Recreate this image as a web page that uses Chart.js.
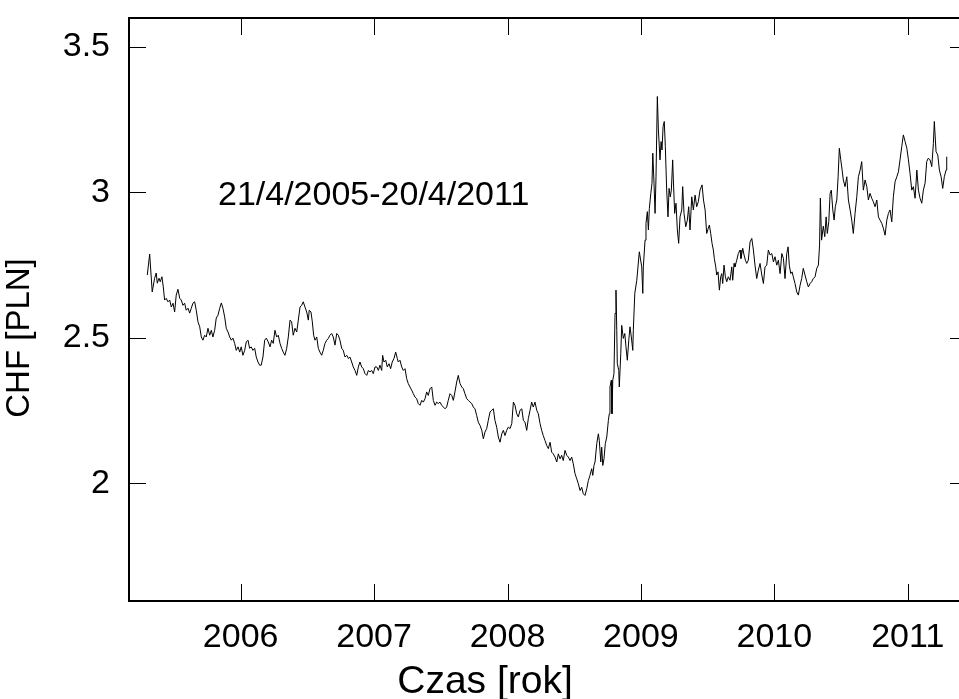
<!DOCTYPE html>
<html lang="pl">
<head>
<meta charset="utf-8">
<title>CHF [PLN]</title>
<script src="https://cdn.jsdelivr.net/npm/chart.js@4.4.1/dist/chart.umd.min.js"></script>
<style>
  html, body { margin: 0; padding: 0; background: #fff; overflow: hidden; }
  #wykres { display: block; }
</style>
</head>
<body>
<canvas id="wykres" width="975" height="699"></canvas>
<script>
// Kurs CHF w złotych (czas jako ułamek roku)
const lata = [
  2005.300, 2005.318, 2005.337, 2005.355, 2005.367, 2005.375, 2005.388, 2005.397, 2005.410, 2005.420,
  2005.430, 2005.442, 2005.455, 2005.468, 2005.480, 2005.493, 2005.505, 2005.517, 2005.530, 2005.543,
  2005.555, 2005.567, 2005.580, 2005.592, 2005.605, 2005.618, 2005.630, 2005.642, 2005.655, 2005.667,
  2005.680, 2005.693, 2005.705, 2005.717, 2005.730, 2005.742, 2005.755, 2005.768, 2005.780, 2005.792,
  2005.805, 2005.817, 2005.830, 2005.843, 2005.855, 2005.867, 2005.880, 2005.892, 2005.905, 2005.918,
  2005.930, 2005.942, 2005.955, 2005.967, 2005.980, 2005.993, 2006.004, 2006.017, 2006.030, 2006.042,
  2006.055, 2006.067, 2006.079, 2006.092, 2006.105, 2006.117, 2006.130, 2006.142, 2006.154, 2006.167,
  2006.180, 2006.192, 2006.207, 2006.220, 2006.232, 2006.244, 2006.257, 2006.270, 2006.282, 2006.295,
  2006.307, 2006.319, 2006.332, 2006.345, 2006.357, 2006.370, 2006.382, 2006.394, 2006.407, 2006.420,
  2006.432, 2006.445, 2006.457, 2006.469, 2006.482, 2006.495, 2006.507, 2006.514, 2006.527, 2006.537,
  2006.547, 2006.557, 2006.570, 2006.582, 2006.594, 2006.607, 2006.619, 2006.632, 2006.645, 2006.657,
  2006.669, 2006.682, 2006.694, 2006.707, 2006.720, 2006.732, 2006.744, 2006.757, 2006.769, 2006.782,
  2006.795, 2006.807, 2006.819, 2006.832, 2006.844, 2006.857, 2006.870, 2006.882, 2006.894, 2006.907,
  2006.919, 2006.932, 2006.945, 2006.957, 2006.969, 2006.982, 2006.994, 2007.007, 2007.020, 2007.032,
  2007.044, 2007.057, 2007.064, 2007.074, 2007.087, 2007.099, 2007.112, 2007.124, 2007.136, 2007.149,
  2007.162, 2007.174, 2007.181, 2007.194, 2007.207, 2007.219, 2007.232, 2007.244, 2007.256, 2007.269,
  2007.282, 2007.294, 2007.307, 2007.319, 2007.331, 2007.344, 2007.357, 2007.369, 2007.382, 2007.394,
  2007.406, 2007.419, 2007.432, 2007.444, 2007.457, 2007.469, 2007.481, 2007.494, 2007.507, 2007.519,
  2007.532, 2007.544, 2007.556, 2007.569, 2007.582, 2007.594, 2007.606, 2007.619, 2007.631, 2007.644,
  2007.657, 2007.669, 2007.681, 2007.694, 2007.706, 2007.719, 2007.732, 2007.744, 2007.756, 2007.769,
  2007.781, 2007.794, 2007.807, 2007.819, 2007.831, 2007.844, 2007.856, 2007.869, 2007.882, 2007.894,
  2007.906, 2007.919, 2007.931, 2007.944, 2007.957, 2007.969, 2007.981, 2007.994, 2008.006, 2008.019,
  2008.032, 2008.044, 2008.056, 2008.069, 2008.081, 2008.094, 2008.107, 2008.119, 2008.131, 2008.144,
  2008.156, 2008.169, 2008.181, 2008.193, 2008.206, 2008.219, 2008.231, 2008.244, 2008.256, 2008.268,
  2008.281, 2008.294, 2008.306, 2008.319, 2008.331, 2008.343, 2008.356, 2008.369, 2008.381, 2008.394,
  2008.406, 2008.418, 2008.431, 2008.444, 2008.456, 2008.469, 2008.481, 2008.493, 2008.506, 2008.519,
  2008.531, 2008.544, 2008.556, 2008.568, 2008.581, 2008.594, 2008.606, 2008.618, 2008.631, 2008.639,
  2008.648, 2008.656, 2008.669, 2008.681, 2008.688, 2008.699, 2008.706, 2008.714, 2008.723, 2008.733,
  2008.744, 2008.756, 2008.763, 2008.768, 2008.778, 2008.783, 2008.789, 2008.798, 2008.806, 2008.813,
  2008.819, 2008.823, 2008.834, 2008.838, 2008.849, 2008.856, 2008.868, 2008.879, 2008.888, 2008.898,
  2008.909, 2008.918, 2008.928, 2008.939, 2008.943, 2008.954, 2008.969, 2008.988, 2009.006, 2009.014,
  2009.018, 2009.031, 2009.038, 2009.048, 2009.056, 2009.063, 2009.074, 2009.083, 2009.089, 2009.098,
  2009.106, 2009.113, 2009.123, 2009.131, 2009.143, 2009.151, 2009.158, 2009.166, 2009.175, 2009.183,
  2009.193, 2009.203, 2009.211, 2009.220, 2009.228, 2009.238, 2009.243, 2009.253, 2009.263, 2009.273,
  2009.283, 2009.293, 2009.306, 2009.313, 2009.323, 2009.336, 2009.348, 2009.358, 2009.368, 2009.381,
  2009.393, 2009.406, 2009.418, 2009.430, 2009.443, 2009.458, 2009.469, 2009.481, 2009.493, 2009.505,
  2009.513, 2009.523, 2009.533, 2009.543, 2009.550, 2009.561, 2009.568, 2009.578, 2009.588, 2009.598,
  2009.606, 2009.613, 2009.623, 2009.633, 2009.643, 2009.655, 2009.668, 2009.681, 2009.688, 2009.698,
  2009.705, 2009.718, 2009.730, 2009.743, 2009.750, 2009.763, 2009.773, 2009.783, 2009.793, 2009.805,
  2009.818, 2009.831, 2009.843, 2009.855, 2009.868, 2009.880, 2009.893, 2009.906, 2009.918, 2009.930,
  2009.943, 2009.955, 2009.968, 2009.981, 2009.993, 2010.005, 2010.018, 2010.030, 2010.043, 2010.056,
  2010.068, 2010.080, 2010.093, 2010.103, 2010.112, 2010.123, 2010.133, 2010.142, 2010.155, 2010.168,
  2010.180, 2010.193, 2010.205, 2010.217, 2010.230, 2010.243, 2010.255, 2010.268, 2010.280, 2010.292,
  2010.305, 2010.318, 2010.330, 2010.339, 2010.345, 2010.354, 2010.367, 2010.378, 2010.388, 2010.397,
  2010.408, 2010.418, 2010.427, 2010.438, 2010.448, 2010.457, 2010.468, 2010.478, 2010.487, 2010.498,
  2010.508, 2010.517, 2010.530, 2010.543, 2010.555, 2010.568, 2010.580, 2010.592, 2010.605, 2010.618,
  2010.630, 2010.643, 2010.655, 2010.667, 2010.680, 2010.693, 2010.705, 2010.717, 2010.730, 2010.742,
  2010.755, 2010.768, 2010.780, 2010.792, 2010.805, 2010.817, 2010.830, 2010.843, 2010.855, 2010.867,
  2010.880, 2010.892, 2010.905, 2010.918, 2010.930, 2010.942, 2010.955, 2010.967, 2010.980, 2010.993,
  2011.005, 2011.017, 2011.030, 2011.042, 2011.055, 2011.068, 2011.080, 2011.092, 2011.105, 2011.117,
  2011.130, 2011.142, 2011.154, 2011.167, 2011.180, 2011.192, 2011.199, 2011.212, 2011.225, 2011.237,
  2011.250, 2011.262, 2011.274, 2011.287, 2011.292
];

const kurs = [
  2.716, 2.788, 2.658, 2.705, 2.723, 2.688, 2.705, 2.693, 2.710, 2.675,
  2.630, 2.636, 2.624, 2.630, 2.606, 2.619, 2.589, 2.647, 2.667, 2.636,
  2.630, 2.612, 2.619, 2.595, 2.602, 2.585, 2.602, 2.619, 2.624, 2.595,
  2.555, 2.538, 2.503, 2.492, 2.509, 2.503, 2.533, 2.509, 2.526, 2.503,
  2.526, 2.568, 2.578, 2.602, 2.620, 2.602, 2.572, 2.533, 2.520, 2.503,
  2.492, 2.499, 2.481, 2.457, 2.469, 2.451, 2.469, 2.440, 2.457, 2.486,
  2.492, 2.464, 2.469, 2.457, 2.464, 2.434, 2.417, 2.406, 2.406, 2.434,
  2.492, 2.499, 2.486, 2.469, 2.492, 2.481, 2.526, 2.503, 2.509, 2.481,
  2.464, 2.451, 2.440, 2.464, 2.503, 2.561, 2.555, 2.509, 2.533, 2.520,
  2.561, 2.606, 2.612, 2.624, 2.606, 2.589, 2.561, 2.595, 2.589, 2.555,
  2.509, 2.492, 2.503, 2.464, 2.451, 2.440, 2.457, 2.481, 2.492, 2.498,
  2.509, 2.515, 2.503, 2.475, 2.515, 2.509, 2.492, 2.464, 2.457, 2.434,
  2.440, 2.429, 2.434, 2.417, 2.400, 2.388, 2.371, 2.400, 2.417, 2.400,
  2.394, 2.377, 2.371, 2.388, 2.383, 2.388, 2.377, 2.400, 2.400, 2.388,
  2.406, 2.388, 2.440, 2.417, 2.423, 2.400, 2.411, 2.394, 2.417, 2.429,
  2.451, 2.429, 2.417, 2.423, 2.400, 2.388, 2.394, 2.360, 2.343, 2.331,
  2.320, 2.308, 2.296, 2.291, 2.274, 2.268, 2.285, 2.279, 2.291, 2.314,
  2.302, 2.325, 2.331, 2.285, 2.268, 2.279, 2.274, 2.279, 2.268, 2.262,
  2.256, 2.262, 2.285, 2.308, 2.302, 2.285, 2.314, 2.348, 2.371, 2.343,
  2.331, 2.325, 2.308, 2.291, 2.285, 2.279, 2.274, 2.262, 2.256, 2.233,
  2.210, 2.199, 2.182, 2.153, 2.176, 2.188, 2.216, 2.245, 2.251, 2.256,
  2.216, 2.193, 2.159, 2.141, 2.170, 2.182, 2.164, 2.182, 2.193, 2.188,
  2.205, 2.279, 2.268, 2.239, 2.228, 2.251, 2.256, 2.216, 2.210, 2.182,
  2.222, 2.251, 2.279, 2.262, 2.279, 2.251, 2.239, 2.205, 2.182, 2.164,
  2.147, 2.130, 2.119, 2.141, 2.107, 2.101, 2.090, 2.073, 2.101, 2.084,
  2.096, 2.078, 2.113, 2.096, 2.090, 2.078, 2.090, 2.067, 2.033, 2.015,
  1.998, 1.975, 1.986, 1.964, 1.958, 1.981, 2.009, 2.027, 2.050, 2.027,
  2.061, 2.073, 2.136, 2.170, 2.147, 2.073, 2.124, 2.061, 2.084, 2.136,
  2.159, 2.216, 2.239, 2.331, 2.354, 2.239, 2.354, 2.377, 2.584, 2.664,
  2.526, 2.411, 2.388, 2.331, 2.446, 2.543, 2.498, 2.515, 2.469, 2.423,
  2.492, 2.538, 2.503, 2.457, 2.526, 2.653, 2.698, 2.796, 2.744, 2.653,
  2.744, 2.836, 2.894, 2.934, 2.871, 2.945, 2.997, 3.032, 3.135, 3.032,
  2.928, 3.054, 3.330, 3.215, 3.112, 3.175, 3.146, 3.226, 3.244, 3.158,
  3.008, 2.916, 3.014, 2.985, 3.008, 3.112, 3.043, 2.928, 2.963, 2.871,
  2.825, 2.916, 2.940, 3.020, 2.928, 2.882, 2.905, 2.951, 2.871, 2.985,
  2.940, 2.991, 2.951, 2.968, 3.008, 3.026, 2.974, 2.940, 2.859, 2.877,
  2.888, 2.859, 2.825, 2.802, 2.773, 2.744, 2.716, 2.727, 2.664, 2.710,
  2.721, 2.687, 2.750, 2.710, 2.693, 2.710, 2.698, 2.744, 2.698, 2.756,
  2.744, 2.767, 2.790, 2.802, 2.773, 2.808, 2.785, 2.767, 2.756, 2.767,
  2.830, 2.842, 2.802, 2.750, 2.704, 2.733, 2.756, 2.716, 2.687, 2.744,
  2.750, 2.802, 2.785, 2.790, 2.761, 2.779, 2.750, 2.767, 2.721, 2.790,
  2.773, 2.704, 2.790, 2.813, 2.750, 2.721, 2.727, 2.710, 2.687, 2.658,
  2.647, 2.681, 2.704, 2.739, 2.716, 2.693, 2.675, 2.687, 2.693, 2.704,
  2.710, 2.739, 2.750, 2.819, 2.981, 2.836, 2.884, 2.848, 2.916, 2.859,
  2.899, 2.997, 3.008, 2.940, 2.905, 2.951, 2.974, 3.054, 3.152, 3.112,
  3.077, 3.043, 3.020, 3.054, 2.974, 2.940, 2.905, 2.859, 2.928, 2.985,
  3.054, 3.077, 3.106, 3.008, 3.043, 3.020, 2.974, 2.997, 2.980, 2.968,
  2.951, 2.974, 2.916, 2.905, 2.894, 2.877, 2.853, 2.905, 2.928, 2.940,
  2.899, 2.985, 3.037, 3.054, 3.071, 3.112, 3.158, 3.198, 3.175, 3.152,
  3.112, 3.066, 3.008, 3.020, 2.980, 3.077, 3.008, 2.980, 2.963, 3.008,
  3.032, 3.106, 3.118, 3.112, 3.089, 3.169, 3.244, 3.140, 3.129, 3.077,
  3.054, 3.014, 3.054, 3.077, 3.123
];

const rokTicks = [2006, 2007, 2008, 2009, 2010, 2011];
const kursTicks = [2, 2.5, 3, 3.5];
const opisOkresu = '21/4/2005-20/4/2011';
const tytulX = 'Czas [rok]';
const tytulY = 'CHF [PLN]';

const czcionka = '"Liberation Sans", Arial, Helvetica, sans-serif';
Chart.defaults.font.family = czcionka;
Chart.defaults.color = '#000';

// Ramka dookoła, krótkie kreski do środka i napisy
const ramka = {
    id: 'ramka',
    afterDraw(chart) {
        const { ctx, chartArea: a, scales: { x, y } } = chart;
        const dl = 17;
        ctx.save();
        ctx.strokeStyle = '#000';
        ctx.lineWidth = 1;
        ctx.beginPath();
        for (const t of rokTicks) {
            const px = Math.round(x.getPixelForValue(t)) + 0.5;
            ctx.moveTo(px, a.bottom);
            ctx.lineTo(px, a.bottom - dl);
            ctx.moveTo(px, a.top);
            ctx.lineTo(px, a.top + dl);
        }
        for (const t of kursTicks) {
            const py = Math.round(y.getPixelForValue(t)) + 0.5;
            ctx.moveTo(a.left, py);
            ctx.lineTo(a.left + dl, py);
            ctx.moveTo(a.right, py);
            ctx.lineTo(a.right - dl, py);
        }
        ctx.stroke();
        ctx.lineWidth = 2;
        ctx.strokeRect(a.left, a.top, a.right - a.left, a.bottom - a.top);

        ctx.fillStyle = '#000';
        ctx.font = '34px ' + czcionka;
        ctx.textAlign = 'left';
        ctx.textBaseline = 'alphabetic';
        ctx.fillText(opisOkresu, 218, 205);

        ctx.font = '39px ' + czcionka;
        ctx.textAlign = 'center';
        ctx.fillText(tytulX, 485, 693);

        ctx.translate(20, 338);
        ctx.rotate(-Math.PI / 2);
        ctx.font = '33px ' + czcionka;
        ctx.textBaseline = 'middle';
        ctx.fillText(tytulY, 0, 0);
        ctx.restore();
    }
};

const ctx = document.getElementById('wykres').getContext('2d');
const chart = new Chart(ctx, {
    type: 'line',
    data: {
        datasets: [{
            label: tytulY,
            data: lata.map((t, i) => ({ x: t, y: kurs[i] })),
            borderColor: '#000',
            borderWidth: 1,
            pointRadius: 0,
            tension: 0,
            fill: false
        }]
    },
    options: {
        responsive: false,
        animation: false,
        devicePixelRatio: 1,
        layout: { padding: { top: 18, right: 8, bottom: 0, left: 0 } },
        plugins: {
            legend: { display: false },
            tooltip: { enabled: false }
        },
        scales: {
            x: {
                type: 'linear',
                min: 2005.163,
                max: 2011.444,
                grid: { display: false, drawTicks: false },
                border: { display: false },
                afterBuildTicks: s => { s.ticks = rokTicks.map(v => ({ value: v })); },
                afterFit: s => { s.height = 98; s.paddingLeft = 0; s.paddingRight = 0; },
                ticks: {
                    font: { size: 34 },
                    padding: 16,
                    autoSkip: false,
                    maxRotation: 0,
                    callback: v => String(v)
                }
            },
            y: {
                type: 'linear',
                min: 1.595,
                max: 3.6,
                grid: { display: false, drawTicks: false },
                border: { display: false },
                afterBuildTicks: s => { s.ticks = kursTicks.map(v => ({ value: v })); },
                afterFit: s => { s.width = 129; s.paddingTop = 0; s.paddingBottom = 0; },
                ticks: {
                    font: { size: 34 },
                    padding: 19,
                    callback: v => String(v)
                }
            }
        }
    },
    plugins: [ramka]
});
</script>
</body>
</html>
